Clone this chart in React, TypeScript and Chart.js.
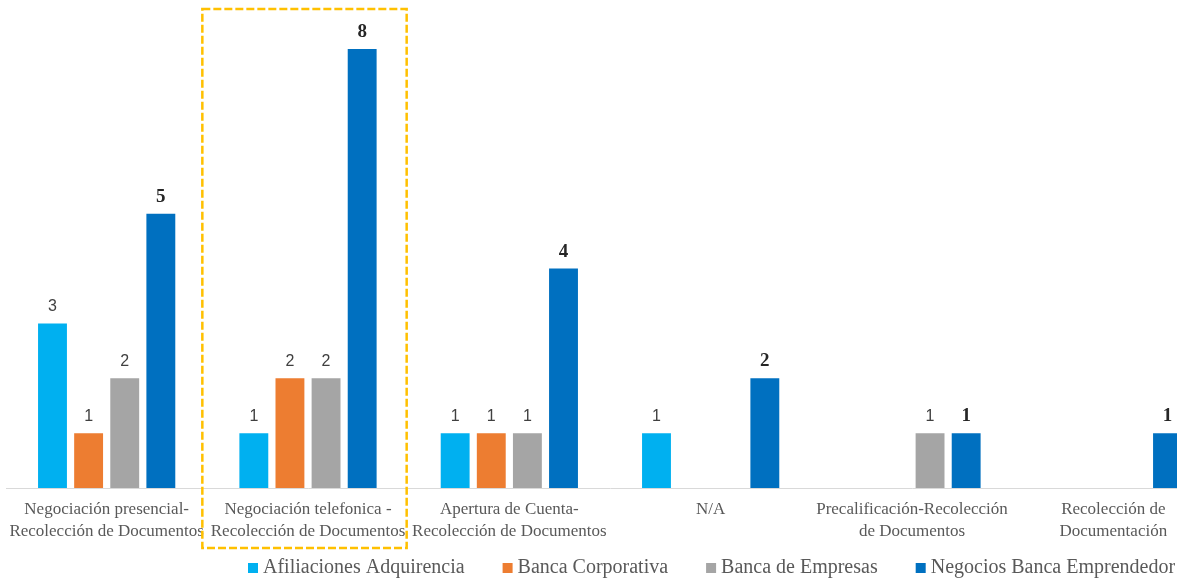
import React, { useEffect, useRef } from "react";
import { Chart, registerables } from "chart.js";

Chart.register(...registerables);

const categories: (string | string[])[] = [
  ["Negociación presencial-", "Recolección de Documentos"],
  ["Negociación telefonica -", "Recolección de Documentos"],
  ["Apertura de Cuenta-", "Recolección de Documentos"],
  "N/A",
  ["Precalificación-Recolección", "de Documentos"],
  ["Recolección de", "Documentación"],
];

const seriesNames = [
  "Afiliaciones Adquirencia",
  "Banca Corporativa",
  "Banca de Empresas",
  "Negocios Banca Emprendedor",
];
const seriesColors = ["#00B0F0", "#ED7D31", "#A5A5A5", "#0070C0"];

const afiliaciones = [3, 1, 1, 1, null, null];
const corporativa = [1, 2, 1, null, null, null];
const empresas = [2, 2, 1, null, 1, null];
const emprendedor = [5, 8, 4, 2, 1, 1];

const highlightedCategory = 1;

const dataLabelPlugin = {
  id: "dataLabels",
  afterDatasetsDraw(chart: any) {
    const ctx = chart.ctx;
    ctx.save();
    ctx.textAlign = "center";
    ctx.textBaseline = "alphabetic";
    chart.data.datasets.forEach((ds: any, di: number) => {
      const meta = chart.getDatasetMeta(di);
      const last = di === chart.data.datasets.length - 1;
      ctx.font = last
        ? "bold 19px 'Liberation Serif', 'Times New Roman', serif"
        : "16px 'Liberation Sans', Arial, sans-serif";
      ctx.fillStyle = last ? "#262626" : "#404040";
      meta.data.forEach((el: any, i: number) => {
        const v = ds.data[i];
        if (v === null || v === undefined) return;
        ctx.fillText(String(v), el.x, el.y - 12);
      });
    });
    ctx.restore();
  },
};

const highlightPlugin = {
  id: "highlightBox",
  afterDraw(chart: any) {
    const x = chart.scales.x;
    const catW = x.width / chart.data.labels.length;
    const c = x.getPixelForValue(highlightedCategory);
    const ctx = chart.ctx;
    ctx.save();
    ctx.strokeStyle = "#FFC000";
    ctx.lineWidth = 2.5;
    ctx.setLineDash([8, 3]);
    const left = c - catW / 2 - 5;
    const right = c + catW / 2 - 2;
    const top = 9;
    const bottom = 548;
    ctx.strokeRect(left, top, right - left, bottom - top);
    ctx.restore();
  },
};

const legendPlugin = {
  id: "customLegend",
  afterDraw(chart: any) {
    const ctx = chart.ctx;
    ctx.save();
    ctx.font = "20px 'Liberation Serif', 'Times New Roman', serif";
    ctx.textBaseline = "middle";
    ctx.textAlign = "left";
    let x = 248;
    const y = 568;
    chart.data.datasets.forEach((ds: any) => {
      ctx.fillStyle = ds.backgroundColor;
      ctx.fillRect(x, y - 5, 10, 10);
      x += 15;
      ctx.fillStyle = "#595959";
      ctx.fillText(ds.label, x, y);
      x += ctx.measureText(ds.label).width + 38;
    });
    ctx.restore();
  },
};

export default function App() {
  const ref = useRef<HTMLCanvasElement | null>(null);
  useEffect(() => {
    if (!ref.current) return;
    const seriesData = [afiliaciones, corporativa, empresas, emprendedor];
    const chart = new Chart(ref.current, {
      type: "bar",
      data: {
        labels: categories,
        datasets: seriesData.map((d, i) => ({
          label: seriesNames[i],
          data: d,
          backgroundColor: seriesColors[i],
          borderWidth: 0,
          categoryPercentage: 0.7175,
          barPercentage: 0.8,
        })),
      },
      options: {
        responsive: false,
        animation: false,
        devicePixelRatio: 1,
        layout: { padding: { top: 49, left: 6, right: 0, bottom: 35 } },
        plugins: {
          legend: { display: false },
          tooltip: { enabled: false },
        },
        scales: {
          x: {
            grid: { display: false },
            border: { display: true, color: "#D9D9D9", width: 1 },
            ticks: {
              autoSkip: false,
              maxRotation: 0,
              minRotation: 0,
              padding: 3,
              color: "#595959",
              font: {
                family: "'Liberation Serif', 'Times New Roman', serif",
                size: 17,
                lineHeight: "22px",
              },
            },
          },
          y: {
            display: false,
            min: 0,
            max: 8,
          },
        },
      },
      plugins: [dataLabelPlugin, highlightPlugin, legendPlugin],
    });
    return () => chart.destroy();
  }, []);

  return (
    <div
      style={{
        position: "fixed",
        left: 0,
        top: 0,
        width: 1177,
        height: 581,
        overflow: "hidden",
        background: "#ffffff",
      }}
    >
      <canvas ref={ref} width={1214} height={581} style={{ display: "block" }} />
    </div>
  );
}
